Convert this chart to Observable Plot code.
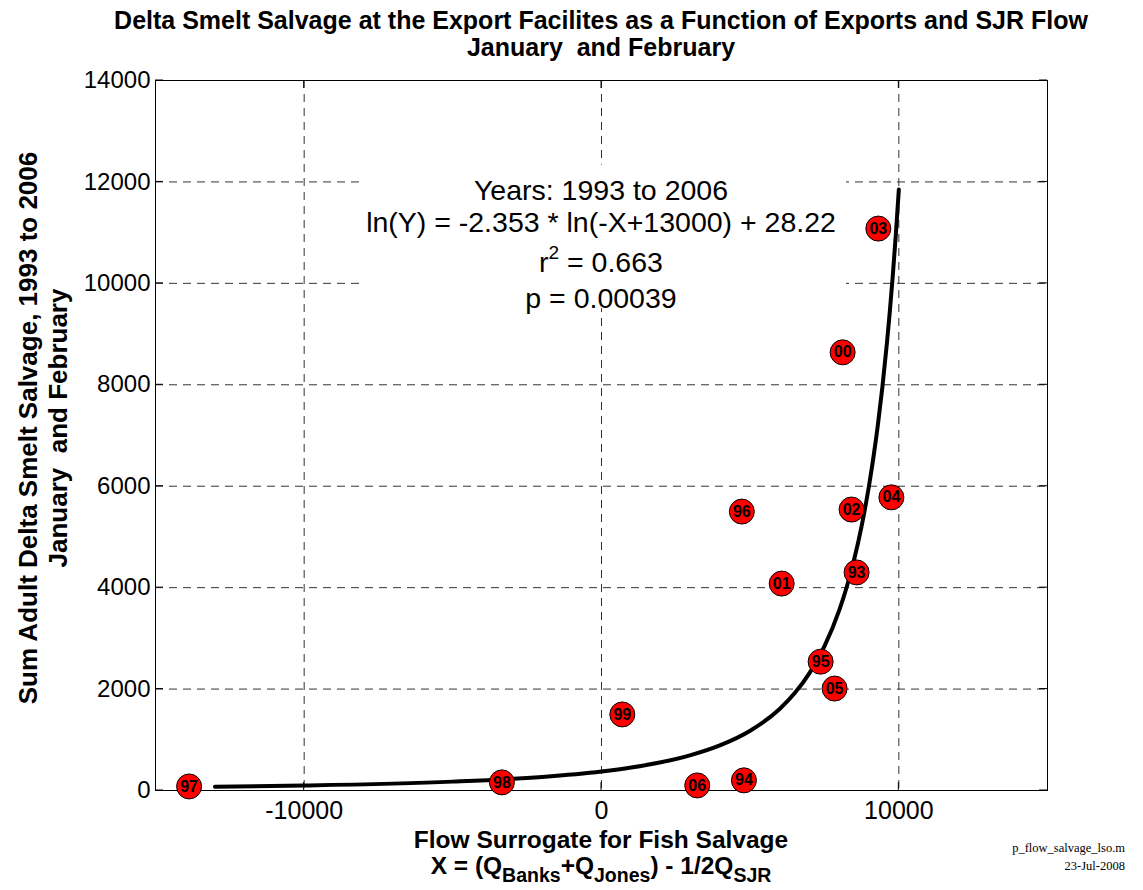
<!DOCTYPE html>
<html>
<head>
<meta charset="utf-8">
<script src="https://cdn.jsdelivr.net/npm/d3@7"></script>
<script src="https://cdn.jsdelivr.net/npm/@observablehq/plot@0.6"></script>
<style>
  html, body { margin: 0; padding: 0; background: white; }
  #chart { width: 1143px; height: 890px; }
</style>
</head>
<body>
<div id="chart"></div>
<script>
// Observations (year label, flow surrogate X, summed salvage Y)
const years   = ["97", "98", "06", "94", "99", "95", "05", "01", "93", "96", "02", "04", "00", "03"];
const flow    = [-13870, -3350, 3220, 4790, 700, 7370, 7840, 6060, 8580, 4720, 8410, 9750, 8110, 9310];
const salvage = [80, 160, 100, 200, 1500, 2540, 2010, 4080, 4300, 5500, 5540, 5780, 8640, 11080];

// Fitted curve
const fitX = [-13000, -10000, -5000, -2000, 0, 1000, 2000, 3000, 4000, 5000, 6000, 6500, 7000, 7500, 8000, 8250, 8500, 8750, 9000, 9150, 9300, 9450, 9600, 9700, 9800, 9900, 10000];
const fitY = [74, 98, 175, 268, 376, 454, 557, 697, 893, 1178, 1613, 1921, 2319, 2846, 3561, 4018, 4563, 5220, 6020, 6588, 7234, 7972, 8826, 9465, 10178, 10972, 11849];

// Tick labels
const xTicks = [-10000, 0, 10000];
const yTicks = [0, 2000, 4000, 6000, 8000, 10000, 12000, 14000];

// Annotation text
const annoLines = ["Years: 1993 to 2006", "ln(Y) = -2.353 * ln(-X+13000) + 28.22", "r|2| = 0.663", "p = 0.00039"];

const points = years.map((label, i) => ({label, x: flow[i], y: salvage[i]}));
const fit = fitX.map((x, i) => ({x, y: fitY[i]}));

const W = 1143, H = 890;
const font = "'Liberation Sans', Arial, sans-serif";
const chart = Plot.plot({
  width: W,
  height: H,
  marginLeft: 155,
  marginRight: 96,
  marginTop: 80,
  marginBottom: 100,
  style: {fontFamily: font, background: "white", color: "black"},
  x: {domain: [-15000, 15000], label: null},
  y: {domain: [0, 14000], label: null},
  marks: [
    Plot.gridX(xTicks, {stroke: "#333", strokeOpacity: 1, strokeDasharray: "8,6", strokeWidth: 1}),
    Plot.gridY(yTicks, {stroke: "#333", strokeOpacity: 1, strokeDasharray: "8,6", strokeWidth: 1}),
    Plot.rect([{}], {x1: -8100, x2: 8240, y1: 9500, y2: 12330, fill: "white"}),
    Plot.frame({stroke: "black", strokeWidth: 1}),
    Plot.axisX(xTicks, {tickSize: 0, tickPadding: 11, fontSize: 25, tickFormat: d => String(d), label: null}),
    Plot.axisY(yTicks, {tickSize: 0, tickPadding: 5, fontSize: 24, tickFormat: d => String(d), label: null}),
    Plot.line(fit, {x: "x", y: "y", stroke: "black", strokeWidth: 4, curve: "monotone-x"}),
    Plot.dot(points, {x: "x", y: "y", r: 12.5, fill: "#ff0000", stroke: "black", strokeWidth: 1}),
    Plot.text(points, {x: "x", y: "y", text: "label", fill: "black", fontSize: 16, fontWeight: "bold", fontFamily: font})
  ]
});

document.getElementById("chart").appendChild(chart);

const svg = d3.select(chart);
const xs = chart.scale("x"), ys = chart.scale("y");
const cx = (xs.range[0] + xs.range[1]) / 2;

// Inward tick marks
const tickLen = 8;
xTicks.forEach(v => {
  const px = xs.apply(v);
  svg.append("line").attr("x1", px).attr("x2", px).attr("y1", ys.range[0]).attr("y2", ys.range[0] - tickLen).attr("stroke", "black");
  svg.append("line").attr("x1", px).attr("x2", px).attr("y1", ys.range[1]).attr("y2", ys.range[1] + tickLen).attr("stroke", "black");
});
yTicks.forEach(v => {
  const py = ys.apply(v);
  svg.append("line").attr("y1", py).attr("y2", py).attr("x1", xs.range[0]).attr("x2", xs.range[0] + tickLen).attr("stroke", "black");
  svg.append("line").attr("y1", py).attr("y2", py).attr("x1", xs.range[1]).attr("x2", xs.range[1] - tickLen).attr("stroke", "black");
});

// Title
const title = svg.append("g").attr("font-family", font).attr("font-weight", "bold").attr("font-size", 25).attr("text-anchor", "middle").attr("fill", "black");
title.append("text").attr("x", cx).attr("y", 29).text("Delta Smelt Salvage at the Export Facilites as a Function of Exports and SJR Flow");
title.append("text").attr("x", cx).attr("y", 56).style("white-space", "pre").text("January  and February");

// Annotation
const anno = svg.append("g").attr("font-family", font).attr("font-size", 28.5).attr("text-anchor", "middle").attr("fill", "black");
const annoY = [11830, 11200, 10410, 9700];
annoLines.forEach((line, i) => {
  const t = anno.append("text").attr("x", xs.apply(0)).attr("y", ys.apply(annoY[i])).attr("dy", "0.36em");
  const parts = line.split("|");
  if (parts.length === 3) {
    t.append("tspan").text(parts[0]);
    t.append("tspan").attr("font-size", 19).attr("dy", -13).text(parts[1]);
    t.append("tspan").attr("dy", 13).text(parts[2]);
  } else {
    t.text(line);
  }
});

// Y label
const yl = svg.append("g").attr("font-family", font).attr("font-weight", "bold").attr("font-size", 26).attr("text-anchor", "middle").attr("fill", "black");
yl.append("text").attr("transform", "translate(37,428) rotate(-90)").text("Sum Adult Delta Smelt Salvage, 1993 to 2006");
yl.append("text").attr("transform", "translate(67,428) rotate(-90)").style("white-space", "pre").text("January  and February");

// X label
const xl = svg.append("g").attr("font-family", font).attr("font-weight", "bold").attr("font-size", 24.5).attr("text-anchor", "middle").attr("fill", "black");
xl.append("text").attr("x", cx).attr("y", 848).text("Flow Surrogate for Fish Salvage");
const x2 = xl.append("text").attr("x", cx).attr("y", 874);
x2.append("tspan").text("X = (Q");
x2.append("tspan").attr("dy", 8).attr("font-size", 19.5).text("Banks");
x2.append("tspan").attr("dy", -8).text("+Q");
x2.append("tspan").attr("dy", 8).attr("font-size", 19.5).text("Jones");
x2.append("tspan").attr("dy", -8).text(") - 1/2Q");
x2.append("tspan").attr("dy", 8).attr("font-size", 19.5).text("SJR");

// Footer
const ft = svg.append("g").attr("font-family", "'Liberation Serif', 'Times New Roman', serif").attr("font-size", 12.5).attr("text-anchor", "end").attr("fill", "black");
ft.append("text").attr("x", 1125).attr("y", 852).text("p_flow_salvage_lso.m");
ft.append("text").attr("x", 1125).attr("y", 870).text("23-Jul-2008");
</script>
</body>
</html>
